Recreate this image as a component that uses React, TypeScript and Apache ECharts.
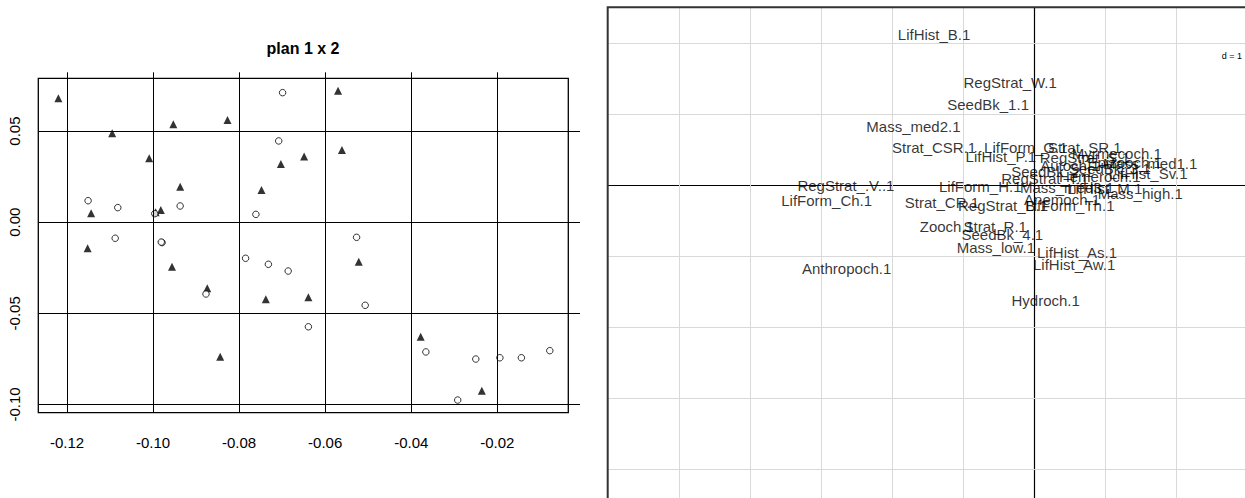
import React, { useEffect, useRef } from "react";
import * as echarts from "echarts";

// ---- Left panel: "plan 1 x 2" ----
const triX = [-0.1220, -0.1095, -0.0953, -0.0827, -0.1009, -0.0703, -0.0937, -0.0748, -0.1144, -0.0994, -0.0982, -0.1152, -0.0956, -0.0874, -0.0738, -0.0844, -0.0570, -0.0649, -0.0561, -0.0522, -0.0639, -0.0378, -0.0236];
const triY = [0.0680, 0.0488, 0.0537, 0.0561, 0.0351, 0.0319, 0.0195, 0.0177, 0.0049, 0.0055, 0.0067, -0.0143, -0.0244, -0.0363, -0.0423, -0.0738, 0.0722, 0.0360, 0.0396, -0.0217, -0.0412, -0.0628, -0.0925];
const circX = [-0.0699, -0.0708, -0.1151, -0.1082, -0.0996, -0.0937, -0.0761, -0.1088, -0.0979, -0.0981, -0.0785, -0.0732, -0.0686, -0.0877, -0.0527, -0.0507, -0.0639, -0.0366, -0.0250, -0.0194, -0.0144, -0.0078, -0.0292];
const circY = [0.0711, 0.0446, 0.0118, 0.0080, 0.0047, 0.0089, 0.0043, -0.0088, -0.0112, -0.0109, -0.0198, -0.0231, -0.0268, -0.0394, -0.0083, -0.0456, -0.0574, -0.0712, -0.0751, -0.0744, -0.0744, -0.0705, -0.0976];
const leftXTicks = [-0.12, -0.1, -0.08, -0.06, -0.04, -0.02];
const leftYTicks = [-0.1, -0.05, 0, 0.05];
const leftTitle = "plan 1 x 2";

// ---- Right panel: labels (d = 1) ----
const labNames = [
  "LifHist_B.1", "RegStrat_W.1", "SeedBk_1.1", "Mass_med2.1", "Strat_CSR.1", "LifForm_G.1",
  "Strat_SR.1", "LifHist_P.1", "Myrmecoch.1", "RegStrat_S.1", "Autoch.1", "Mass_med1.1",
  "SeedBk_2.1", "LifHist_Sv.1", "SeedBk_3.1", "Epizooch.1", "RegStrat_T.1", "Hemeroch.1",
  "LifForm_H.1", "Mass_med3.1", "LifHist_M.1", "Mass_high.1", "Strat_CR.1", "RegStrat_B.1",
  "Anemoch.1", "LifForm_Th.1", "Zooch.1", "Strat_R.1", "SeedBk_4.1", "Mass_low.1",
  "LifHist_As.1", "LifHist_Aw.1", "Hydroch.1", "Anthropoch.1", "RegStrat_.V..1", "LifForm_Ch.1",
];
const labX = [
  -1.41, -0.34, -0.65, -1.70, -1.41, -0.12,
  0.71, -0.47, 1.16, 0.71, 0.50, 1.63,
  0.25, 1.60, 1.06, 1.27, 0.15, 0.92,
  -0.76, 0.46, 0.99, 1.49, -1.30, -0.44,
  0.39, 0.50, -1.23, -0.55, -0.45, -0.54,
  0.60, 0.56, 0.16, -2.64, -2.65, -2.92,
];
const labY = [
  2.12, 1.44, 1.13, 0.83, 0.53, 0.53,
  0.53, 0.40, 0.45, 0.39, 0.28, 0.30,
  0.19, 0.16, 0.23, 0.32, 0.09, 0.12,
  -0.02, -0.03, -0.05, -0.12, -0.24, -0.29,
  -0.20, -0.29, -0.58, -0.58, -0.69, -0.88,
  -0.95, -1.12, -1.62, -1.17, 0.00, -0.22,
];
// grid lines every d = 1
const gridXLines = [-5, -4, -3, -2, -1, 1, 2];
const gridYLines = [-4, -3, -2, -1, 1, 2];

const FONT = "Liberation Sans, Arial, Helvetica, sans-serif";

export default function App() {
  const ref = useRef<HTMLDivElement>(null);
  useEffect(() => {
    document.body.style.margin = "0";
    const chart = echarts.init(ref.current!, undefined, { renderer: "svg" });
    const option: any = {
      animation: false,
      backgroundColor: "#fff",
      grid: [
        { left: 38.3, top: 72.3, width: 541.7, height: 340.4 },
        { left: 607.7, top: 7.3, right: 0, bottom: 0 },
      ],
      xAxis: [
        {
          gridIndex: 0, type: "value", min: -0.12667, max: -0.00078,
          axisLine: { show: false }, axisTick: { show: false }, splitLine: { show: false },
          axisLabel: {
            customValues: leftXTicks, formatter: (v: number) => v.toFixed(2),
            color: "#000", fontSize: 15, fontFamily: FONT, margin: 22,
          },
        },
        {
          gridIndex: 1, type: "value", min: -6, max: 2.963,
          axisLine: { show: true, onZero: true, lineStyle: { color: "#000", width: 1.2 } },
          axisTick: { show: false }, axisLabel: { show: false },
          splitLine: { show: false },
        },
      ],
      yAxis: [
        {
          gridIndex: 0, type: "value", min: -0.10455, max: 0.08227,
          axisLine: { show: false }, axisTick: { show: false }, splitLine: { show: false },
          axisLabel: {
            customValues: leftYTicks, formatter: (v: number) => v.toFixed(2),
            color: "#000", fontSize: 15, fontFamily: FONT, rotate: 90, margin: 16,
          },
        },
        {
          gridIndex: 1, type: "value", min: -4.401, max: 2.5,
          axisLine: { show: true, onZero: true, lineStyle: { color: "#000", width: 1.2 } },
          axisTick: { show: false }, axisLabel: { show: false },
          splitLine: { show: false },
        },
      ],
      series: [
        {
          type: "scatter", xAxisIndex: 0, yAxisIndex: 0, silent: true,
          symbol: "triangle", symbolSize: 8,
          itemStyle: { color: "#000" },
          data: triX.map((x, i) => [x, triY[i]]),
          z: 3,
          markLine: {
            silent: true, symbol: "none", animation: false,
            label: { show: false },
            lineStyle: { color: "#000", width: 1, type: "solid" },
            data: [
              ...leftXTicks.map((v) => ({ xAxis: v })),
              ...leftYTicks.map((v) => ({ yAxis: v })),
            ],
          },
        },
        {
          type: "scatter", xAxisIndex: 0, yAxisIndex: 0, silent: true,
          symbol: "circle", symbolSize: 6.5,
          itemStyle: { color: "#fff", borderColor: "#000", borderWidth: 1 },
          data: circX.map((x, i) => [x, circY[i]]),
          z: 4,
        },
        {
          type: "scatter", xAxisIndex: 1, yAxisIndex: 1, silent: true,
          data: [], z: 1,
          markLine: {
            silent: true, symbol: "none", animation: false,
            label: { show: false },
            lineStyle: { color: "#d9d9d9", width: 1, type: "solid" },
            data: [
              ...gridXLines.map((v) => ({ xAxis: v })),
              ...gridYLines.map((v) => ({ yAxis: v })),
            ],
          },
        },
        {
          type: "scatter", xAxisIndex: 1, yAxisIndex: 1, silent: true,
          symbolSize: 1, itemStyle: { color: "rgba(0,0,0,0)" },
          z: 6,
          label: {
            show: true, position: "inside", formatter: "{b}",
            color: "#000", fontSize: 15, fontFamily: FONT,
          },
          labelLayout: { hideOverlap: false },
          data: labNames.map((n, i) => ({ name: n, value: [labX[i], labY[i]] })),
        },
      ],
      graphic: [
        {
          type: "text", x: 303, y: 48, z: 10,
          style: { text: leftTitle, font: `bold 16px ${FONT}`, fill: "#000", align: "center", verticalAlign: "middle" },
        },
        {
          type: "rect", z: 10, silent: true,
          shape: { x: 38.3, y: 78.3, width: 530, height: 334.4 },
          style: { fill: "none", stroke: "#000", lineWidth: 1.3 },
        },
        {
          type: "rect", z: 5, silent: true,
          shape: { x: 1209, y: 36, width: 50, height: 42 },
          style: { fill: "#fff", stroke: "none" },
        },
        {
          type: "text", x: 1232, y: 56, z: 10,
          style: { text: "d = 1", font: `9px ${FONT}`, fill: "#000", align: "center", verticalAlign: "middle" },
        },
        {
          type: "polyline", z: 10, silent: true,
          shape: { points: [[607.7, 520], [607.7, 7.3], [1260, 7.3]] },
          style: { fill: "none", stroke: "#333", lineWidth: 2 },
        },
      ],
    };
    chart.setOption(option);
    return () => chart.dispose();
  }, []);
  return (
    <div
      ref={ref}
      style={{ position: "absolute", left: 0, top: 0, width: 1245, height: 498 }}
    />
  );
}
